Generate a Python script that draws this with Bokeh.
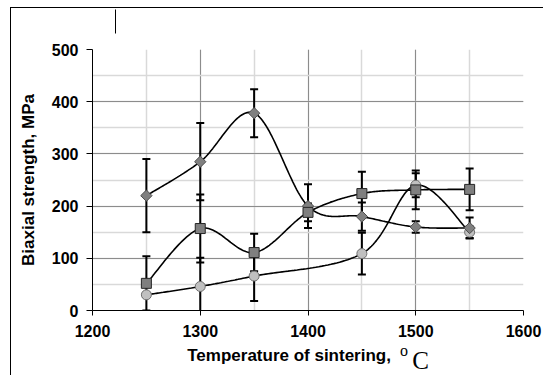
import numpy as np
from bokeh.plotting import figure
from bokeh.models import SingleIntervalTicker, FixedTicker, Range1d, ColumnDataSource, LinearAxis
from bokeh.embed import file_html
from bokeh.resources import INLINE

# ---- data ----
temps_a = [1250, 1300, 1350, 1400, 1450, 1500, 1550]
diamond_vals = [220, 285, 378, 200, 180, 160, 158]
diamond_err = [70, 74, 46, 42, 27, 11, 20]

temps_b = [1250, 1300, 1350, 1400, 1450, 1500, 1550]
square_vals = [52, 157, 111, 188, 224, 231, 232]
square_err = [52, 65, 36, 17, 42, 37, 40]

temps_c = [1250, 1300, 1350, 1450, 1500, 1550]
circle_vals = [30, 46, 66, 109, 240, 150]
circle_err = [4, 55, 48, 40, 23, 11]

x_ticks_interval = 100
y_ticks_interval = 100

FONT = "Liberation Sans"
SERIF = "Liberation Serif"
NB = "\u00a0"


def excel_smooth(xs, ys, n=40):
    pts = np.column_stack([xs, ys]).astype(float)
    out = []
    for i in range(len(pts) - 1):
        p0 = pts[i - 1] if i > 0 else pts[i]
        p1 = pts[i]
        p2 = pts[i + 1]
        p3 = pts[i + 2] if i + 2 < len(pts) else pts[i + 1]
        c1 = p1 + (p2 - p0) / 6.0
        c2 = p2 - (p3 - p1) / 6.0
        t = np.linspace(0, 1, n)[:, None]
        seg = (1 - t) ** 3 * p1 + 3 * (1 - t) ** 2 * t * c1 + 3 * (1 - t) * t ** 2 * c2 + t ** 3 * p2
        out.append(seg if i == 0 else seg[1:])
    arr = np.vstack(out)
    return arr[:, 0], arr[:, 1]


p = figure(width=533, height=368,
           x_range=Range1d(1200, 1600), y_range=Range1d(0, 500),
           output_backend="svg", toolbar_location=None,
           min_border_left=81, min_border_right=21,
           min_border_top=41, min_border_bottom=66)
p.styles = {"border-top": "1px solid black", "border-left": "1px solid black",
            "margin-left": "10px", "margin-top": "7px"}

p.background_fill_color = "white"
p.border_fill_color = "white"
p.outline_line_color = None

p.xaxis.ticker = SingleIntervalTicker(interval=x_ticks_interval, num_minor_ticks=2)
p.yaxis.ticker = SingleIntervalTicker(interval=y_ticks_interval, num_minor_ticks=2)

for g in (p.xgrid, p.ygrid):
    g.grid_line_color = "#8c8c8c"
    g.grid_line_width = 1
    g.minor_grid_line_color = "#d9d9d9"
    g.minor_grid_line_width = 1.5

p.axis.axis_line_color = "black"
p.axis.axis_line_width = 1
p.axis.major_tick_line_color = "black"
p.axis.major_tick_in = 0
p.yaxis.major_tick_out = 6
p.xaxis.major_tick_out = 5
p.axis.minor_tick_line_color = None
p.axis.major_label_text_font = FONT
p.axis.major_label_text_font_style = "bold"
p.axis.major_label_text_font_size = "16px"
p.axis.major_label_text_color = "black"
p.yaxis.major_label_standoff = 8
p.xaxis.major_label_standoff = 9

p.yaxis.axis_label = "Biaxial strength, MPa"
p.xaxis.axis_label = "Temperature of sintering," + NB * 8
for ax in (p.xaxis, p.yaxis):
    ax.axis_label_text_font = FONT
    ax.axis_label_text_font_style = "bold"
    ax.axis_label_text_font_size = "17px"
    ax.axis_label_text_color = "black"
p.yaxis.axis_label_standoff = 11
p.xaxis.axis_label_standoff = 6


def unit_axis(text, size, standoff):
    ax = LinearAxis(ticker=FixedTicker(ticks=[]), axis_line_color=None,
                    major_tick_in=0, major_tick_out=0, minor_tick_in=0, minor_tick_out=0,
                    major_tick_line_color=None, minor_tick_line_color=None,
                    major_label_standoff=0, major_label_text_font_size="1px",
                    axis_label=text, axis_label_text_font=SERIF,
                    axis_label_text_font_style="normal",
                    axis_label_text_font_size=size, axis_label_text_color="black",
                    axis_label_standoff=standoff)
    p.add_layout(ax, "below")
    return ax


unit_axis(NB * 48 + "o", "16px", -26)
unit_axis(NB * 36 + "C", "25px", -21)

# thin vertical stroke left over at the top of the original (cropped) figure
top_stub = LinearAxis(ticker=FixedTicker(ticks=[1221]), axis_line_color=None,
                      major_tick_in=-16, major_tick_out=40, major_tick_line_color="black",
                      major_tick_line_width=1, minor_tick_line_color=None,
                      minor_tick_in=0, minor_tick_out=0,
                      major_label_standoff=0, major_label_text_font_size="1px",
                      major_label_text_alpha=0)
p.add_layout(top_stub, "above")


def draw_series(xs, ys, es):
    xs = np.asarray(xs, float)
    ys = np.asarray(ys, float)
    es = np.asarray(es, float)
    src = ColumnDataSource(dict(x=xs, y=ys, lo=ys - es, hi=ys + es))
    p.segment(x0="x", y0="lo", x1="x", y1="hi", source=src, line_color="black", line_width=2)
    p.scatter(x="x", y="lo", source=src, marker="dash", size=8, line_color="black", line_width=2)
    p.scatter(x="x", y="hi", source=src, marker="dash", size=8, line_color="black", line_width=2)
    sx, sy = excel_smooth(xs, ys)
    p.line(sx, sy, line_color="black", line_width=1.6)
    return src


src_c = draw_series(temps_c, circle_vals, circle_err)
src_a = draw_series(temps_a, diamond_vals, diamond_err)
src_b = draw_series(temps_b, square_vals, square_err)

p.scatter(x="x", y="y", source=src_c, marker="circle", size=10,
          fill_color="#c0c0c0", line_color="#6f6f6f", line_width=1)
p.scatter(x="x", y="y", source=src_a, marker="square", size=8, angle=np.pi / 4,
          fill_color="#808080", line_color="#4d4d4d", line_width=1)
p.scatter(x="x", y="y", source=src_b, marker="square", size=10,
          fill_color="#7f7f7f", line_color="#262626", line_width=1)

open("out.html", "w").write(file_html(p, INLINE))
